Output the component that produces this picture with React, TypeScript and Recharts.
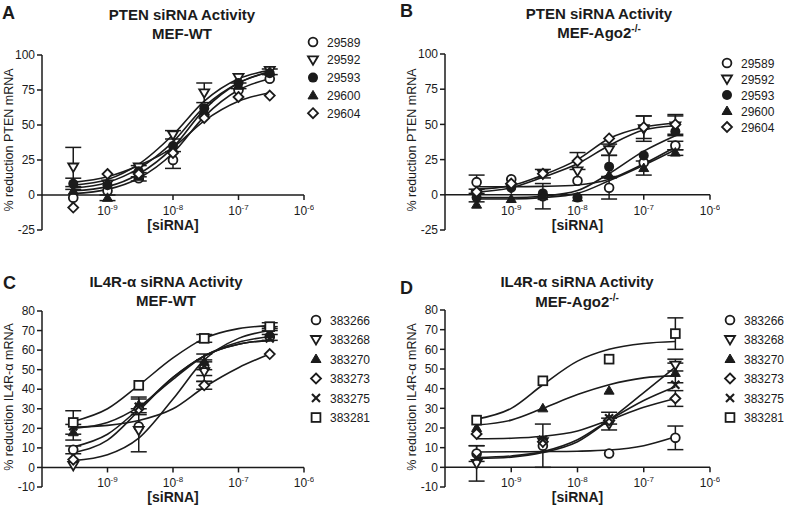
import React from 'react';
import { ComposedChart, Line, Scatter, XAxis, YAxis, ErrorBar, ReferenceLine, ReferenceDot } from 'recharts';

const FONT = '"Liberation Sans", Arial, Helvetica, sans-serif';
const INK = '#1b1b1b';

// siRNA concentrations (M)
const CONC_PTEN = [3e-10, 1e-9, 3e-9, 1e-8, 3e-8, 1e-7, 3e-7];
const CONC_IL4R = [3e-10, 3e-9, 3e-8, 3e-7];
const CURVE_X = [3e-10, 1e-9, 3e-9, 1e-8, 3e-8, 1e-7, 3e-7];
const X_TICKS = [1e-9, 1e-8, 1e-7, 1e-6];
const X_TICK_EXP = ['-9', '-8', '-7', '-6'];

const PTEN_IDS = ['29589', '29592', '29593', '29600', '29604'];
const PTEN_MARKS = ['circle', 'triDown', 'dot', 'tri', 'diamond'];
const IL4R_IDS = ['383266', '383268', '383270', '383273', '383275', '383281'];
const IL4R_MARKS = ['circle', 'triDown', 'tri', 'diamond', 'cross', 'square'];

const PTEN_TICKS = [-25, 0, 25, 50, 75, 100];
const IL4R_TICKS = [-10, 0, 10, 20, 30, 40, 50, 60, 70, 80];

// A: PTEN, MEF-WT
const WT_PTEN_MEAN = [
  [-2, 3, 12, 25, 57, 75, 83],
  [20, 8, 20, 43, 73, 84, 89],
  [8, 7, 17, 35, 62, 80, 87],
  [3, -2, 13, 33, 60, 78, 88],
  [-9, 15, 15, 30, 55, 70, 71],
];
const WT_PTEN_SEM = [
  [null, null, null, 6, null, null, null],
  [14, null, null, 3, 7, null, null],
  [4, null, 4, null, null, null, null],
  [null, 2, 3, null, null, 2, 2],
  [null, null, null, null, null, null, null],
];
const WT_PTEN_FIT = [
  [1, 4, 12, 30, 56, 75, 83],
  [7, 11, 22, 43, 67, 83, 89],
  [5, 9, 19, 38, 63, 80, 88],
  [3, 6, 15, 34, 61, 80, 88],
  [9, 13, 21, 34, 53, 67, 73],
];

// B: PTEN, MEF-Ago2-/-
const KO_PTEN_MEAN = [
  [9, 11, -1, 10, 5, 23, 35],
  [1, 5, 15, 17, 32, 47, 49],
  [-2, 5, 1, -2, 20, 28, 45],
  [-7, -3, -1, -2, 14, 19, 30],
  [2, 8, 15, 24, 40, 48, 50],
];
const KO_PTEN_SEM = [
  [5, null, 9, null, 8, null, 3],
  [null, null, 3, null, 4, 9, 7],
  [3, null, null, null, 8, null, null],
  [null, null, null, null, null, 5, 2],
  [null, null, null, 6, null, 8, 7],
];
const KO_PTEN_FIT = [
  [5.7, 5.7, 6, 7, 11, 22, 34],
  [2, 5, 12.5, 22, 35, 46, 49],
  [-2, -2, -1, 3, 15, 31, 42],
  [-3, -3, -2, 1, 10, 21, 32],
  [4, 6.5, 14, 25, 40, 48, 51],
];

// C: IL4R-a, MEF-WT
const WT_IL4R_MEAN = [
  [9, 21, 51, 67],
  [1, 19, 49, 70],
  [18, 32, 54, 68],
  [4, 30, 42, 58],
  [21, 31, 52, 66],
  [23, 42, 66, 72],
];
const WT_IL4R_SEM = [
  [2, null, 4, null],
  [null, 11, 5, 2],
  [4, 4, 4, 3],
  [null, null, 2, null],
  [null, 4, null, null],
  [6, null, 2, 2],
];
const WT_IL4R_FIT = [
  [10.5, 17, 30, 46, 57, 63, 65],
  [3.5, 6.5, 15, 35, 55, 66, 70],
  [20, 23, 31, 45, 57, 63, 65],
  [20.5, 21.5, 24, 30, 41, 51, 58],
  [7.5, 14, 29, 46, 57, 64, 67],
  [23.5, 30, 42, 56, 66, 71, 72.5],
];

// D: IL4R-a, MEF-Ago2-/-
const KO_IL4R_MEAN = [
  [7, 11, 7, 15],
  [2, 13, 22, 52],
  [20, 30, 39, 48],
  [17, 13, 24, 35],
  [5, 14, 25, 42],
  [24, 44, 55, 68],
];
const KO_IL4R_SEM = [
  [4, 11, null, 6],
  [9, null, 3, 3],
  [null, null, null, 5],
  [null, null, null, 4],
  [null, null, 3, null],
  [null, null, null, 8],
];
const KO_IL4R_FIT = [
  [7.8, 7.9, 8, 8.2, 8.8, 11, 15.5],
  [4.5, 5.2, 7.5, 13, 24, 38, 51],
  [21.5, 24, 30, 37, 42, 45.5, 46.5],
  [14.5, 14.8, 15.8, 18.5, 24, 30.5, 35],
  [5, 5.8, 8, 14, 24, 34, 41],
  [24.5, 30, 42, 54, 60, 63, 64],
];

function Marker({ kind, cx, cy, s = 5 }: any) {
  const sw = 1.8;
  if (cx == null || cy == null) return null;
  switch (kind) {
    case 'circle':
      return <circle cx={cx} cy={cy} r={s - 0.6} fill="#fff" stroke={INK} strokeWidth={sw} />;
    case 'dot':
      return <circle cx={cx} cy={cy} r={s} fill={INK} />;
    case 'triDown':
      return <polygon points={`${cx - s},${cy - s * 0.7} ${cx + s},${cy - s * 0.7} ${cx},${cy + s}`} fill="#fff" stroke={INK} strokeWidth={sw} strokeLinejoin="miter" />;
    case 'tri':
      return <polygon points={`${cx - s},${cy + s * 0.7} ${cx + s},${cy + s * 0.7} ${cx},${cy - s}`} fill={INK} stroke={INK} strokeWidth={1} />;
    case 'diamond':
      return <polygon points={`${cx},${cy - s} ${cx + s},${cy} ${cx},${cy + s} ${cx - s},${cy}`} fill="#fff" stroke={INK} strokeWidth={sw} />;
    case 'cross':
      return (
        <g stroke={INK} strokeWidth={2.2}>
          <line x1={cx - s * 0.8} y1={cy - s * 0.8} x2={cx + s * 0.8} y2={cy + s * 0.8} />
          <line x1={cx - s * 0.8} y1={cy + s * 0.8} x2={cx + s * 0.8} y2={cy - s * 0.8} />
        </g>
      );
    case 'square':
      return <rect x={cx - s + 0.6} y={cy - s + 0.6} width={2 * s - 1.2} height={2 * s - 1.2} fill="#fff" stroke={INK} strokeWidth={sw} />;
    default:
      return null;
  }
}

function XTick({ cx, cy, exp }: any) {
  return (
    <g>
      <line x1={cx} y1={cy} x2={cx} y2={cy + 5} stroke={INK} strokeWidth={1.5} />
      <text x={cx} y={cy + 20} textAnchor="middle" fontSize={12} fontFamily={FONT} fill={INK}>
        10<tspan dy={-5} fontSize={8}>{exp}</tspan>
      </text>
    </g>
  );
}

function XTitle({ cx, cy }: any) {
  return (
    <text x={cx} y={cy + 35} textAnchor="middle" fontSize={14} fontWeight="bold" fontFamily={FONT} fill={INK}>
      [siRNA]
    </text>
  );
}

interface PanelProps {
  left: number;
  top: number;
  plotW: number;
  plotH: number;
  yDomain: [number, number];
  yTicks: number[];
  conc: number[];
  means: number[][];
  sems: (number | null)[][];
  fits: number[][];
  marks: string[];
}

function Panel({ left, top, plotW, plotH, yDomain, yTicks, conc, means, sems, fits, marks }: PanelProps) {
  const YW = 34, ML = 6, MT = 8, MR = 10, MB = 22;
  return (
    <div style={{ position: 'absolute', left: left - YW - ML, top: top - MT }}>
      <ComposedChart width={plotW + YW + ML + MR} height={plotH + MT + MB} margin={{ top: MT, right: MR, bottom: MB, left: ML }}>
        <XAxis type="number" dataKey="x" scale="log" domain={[1e-10, 1e-6]} allowDataOverflow hide />
        <YAxis
          type="number"
          domain={yDomain}
          ticks={yTicks}
          interval={0}
          allowDataOverflow
          width={YW}
          tickSize={5}
          tickMargin={2}
          tick={{ fill: INK, fontSize: 12, fontFamily: FONT }}
          axisLine={{ stroke: INK, strokeWidth: 1.5 }}
          tickLine={{ stroke: INK, strokeWidth: 1.5 }}
        />
        <ReferenceLine y={0} stroke={INK} strokeWidth={1.5} />
        {X_TICKS.map((t, i) => (
          <ReferenceDot key={'t' + t} x={t} y={0} r={0} shape={(p: any) => <XTick {...p} exp={X_TICK_EXP[i]} />} />
        ))}
        <ReferenceDot x={1e-8} y={0} r={0} shape={(p: any) => <XTitle {...p} />} />
        {fits.map((f, i) => (
          <Line
            key={'f' + i}
            data={CURVE_X.map((x, j) => ({ x, y: f[j] }))}
            dataKey="y"
            type="monotone"
            stroke={INK}
            strokeWidth={1.6}
            dot={false}
            activeDot={false}
            isAnimationActive={false}
          />
        ))}
        {means.map((m, i) => (
          <Scatter
            key={'s' + i}
            data={conc.map((x, j) => ({ x, y: m[j], e: sems[i][j] }))}
            dataKey="y"
            isAnimationActive={false}
            shape={(p: any) => <Marker kind={marks[i]} cx={p.cx} cy={p.cy} />}
          >
            <ErrorBar dataKey="e" direction="y" width={8} stroke={INK} strokeWidth={1.5} />
          </Scatter>
        ))}
      </ComposedChart>
    </div>
  );
}

function Legend({ x, y, step, ids, marks }: any) {
  return (
    <g>
      {ids.map((id: string, i: number) => (
        <g key={id}>
          <Marker kind={marks[i]} cx={x} cy={y + i * step} />
          <text x={x + 14} y={y + i * step + 4.5} fontSize={12} fontFamily={FONT} fill={INK}>{id}</text>
        </g>
      ))}
    </g>
  );
}

function Texts() {
  const t = { fontFamily: FONT, fill: INK } as any;
  return (
    <svg width={786} height={510} style={{ position: 'absolute', left: 0, top: 0 }}>
      {/* panel letters */}
      <text x={2} y={19} fontSize={18} fontWeight="bold" {...t}>A</text>
      <text x={400} y={17} fontSize={18} fontWeight="bold" {...t}>B</text>
      <text x={3} y={289} fontSize={18} fontWeight="bold" {...t}>C</text>
      <text x={400} y={294} fontSize={18} fontWeight="bold" {...t}>D</text>

      {/* titles */}
      <text x={182} y={20} textAnchor="middle" fontSize={15} fontWeight="bold" {...t}>PTEN siRNA Activity</text>
      <text x={182} y={39} textAnchor="middle" fontSize={15} fontWeight="bold" {...t}>MEF-WT</text>
      <text x={599} y={18.5} textAnchor="middle" fontSize={15} fontWeight="bold" {...t}>PTEN siRNA Activity</text>
      <text x={599} y={37.5} textAnchor="middle" fontSize={15} fontWeight="bold" {...t}>
        MEF-Ago2<tspan dy={-6} fontSize={10}>-/-</tspan>
      </text>
      <text x={166} y={287} textAnchor="middle" fontSize={15} fontWeight="bold" {...t}>IL4R-α siRNA Activity</text>
      <text x={166} y={306} textAnchor="middle" fontSize={15} fontWeight="bold" {...t}>MEF-WT</text>
      <text x={577} y={287} textAnchor="middle" fontSize={15} fontWeight="bold" {...t}>IL4R-α siRNA Activity</text>
      <text x={577} y={306.5} textAnchor="middle" fontSize={15} fontWeight="bold" {...t}>
        MEF-Ago2<tspan dy={-6} fontSize={10}>-/-</tspan>
      </text>

      {/* y axis titles */}
      <text transform="translate(13,140) rotate(-90)" textAnchor="middle" fontSize={12.5} {...t}>% reduction PTEN mRNA</text>
      <text transform="translate(416,140) rotate(-90)" textAnchor="middle" fontSize={12.5} {...t}>% reduction PTEN mRNA</text>
      <text transform="translate(13,397) rotate(-90)" textAnchor="middle" fontSize={12.5} {...t}>% reduction IL4R-α mRNA</text>
      <text transform="translate(416,397) rotate(-90)" textAnchor="middle" fontSize={12.5} {...t}>% reduction IL4R-α mRNA</text>

      <Legend x={313} y={42} step={17.8} ids={PTEN_IDS} marks={PTEN_MARKS} />
      <Legend x={727} y={63} step={16} ids={PTEN_IDS} marks={PTEN_MARKS} />
      <Legend x={316} y={320} step={19.5} ids={IL4R_IDS} marks={IL4R_MARKS} />
      <Legend x={730} y={320} step={19.5} ids={IL4R_IDS} marks={IL4R_MARKS} />
    </svg>
  );
}

export default function App() {
  return (
    <div style={{ position: 'fixed', left: 0, top: 0, width: 786, height: 510, background: '#fff', overflow: 'hidden' }}>
      <Texts />
      <Panel left={42} top={55} plotW={262} plotH={175} yDomain={[-25, 100]} yTicks={PTEN_TICKS}
        conc={CONC_PTEN} means={WT_PTEN_MEAN} sems={WT_PTEN_SEM} fits={WT_PTEN_FIT} marks={PTEN_MARKS} />
      <Panel left={445} top={54} plotW={265} plotH={176} yDomain={[-25, 100]} yTicks={PTEN_TICKS}
        conc={CONC_PTEN} means={KO_PTEN_MEAN} sems={KO_PTEN_SEM} fits={KO_PTEN_FIT} marks={PTEN_MARKS} />
      <Panel left={42} top={311} plotW={262} plotH={176} yDomain={[-10, 80]} yTicks={IL4R_TICKS}
        conc={CONC_IL4R} means={WT_IL4R_MEAN} sems={WT_IL4R_SEM} fits={WT_IL4R_FIT} marks={IL4R_MARKS} />
      <Panel left={445} top={310} plotW={265} plotH={177} yDomain={[-10, 80]} yTicks={IL4R_TICKS}
        conc={CONC_IL4R} means={KO_IL4R_MEAN} sems={KO_IL4R_SEM} fits={KO_IL4R_FIT} marks={IL4R_MARKS} />
    </div>
  );
}
